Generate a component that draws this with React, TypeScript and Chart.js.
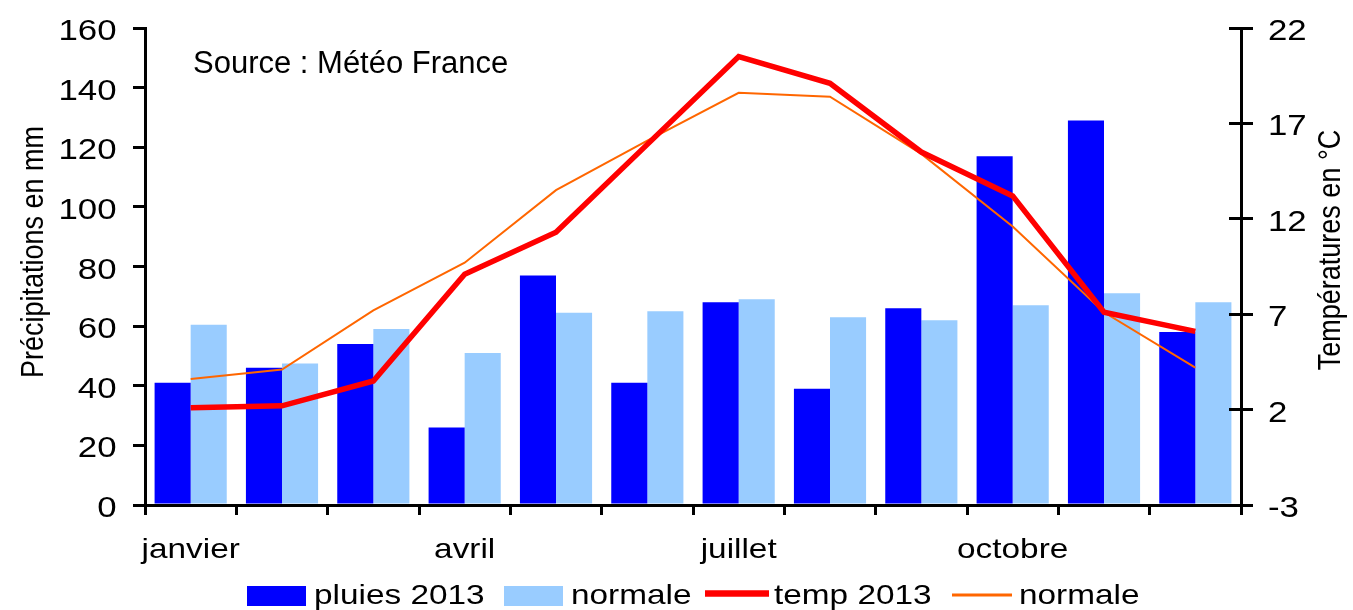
import React, { useEffect, useRef } from 'react';
import { Chart, registerables } from 'chart.js';

Chart.register(...registerables);

// ---- data ----
const months = ['janvier', 'février', 'mars', 'avril', 'mai', 'juin', 'juillet', 'août', 'septembre', 'octobre', 'novembre', 'décembre'];
const xTickLabels = ['janvier', '', '', 'avril', '', '', 'juillet', '', '', 'octobre', '', ''];
const pluies2013 = [41, 46, 54, 26, 77, 41, 68, 39, 66, 117, 129, 58];
const pluiesNormale = [60.5, 47.5, 59, 51, 64.5, 65, 69, 63, 62, 67, 71, 68];
const temp2013 = [2.1, 2.2, 3.5, 9.1, 11.3, 15.9, 20.5, 19.1, 15.5, 13.2, 7.1, 6.1];
const tempNormale = [3.6, 4.1, 7.2, 9.7, 13.5, 16.1, 18.6, 18.4, 15.4, 11.6, 7.1, 4.2];
const precipMin = 0;
const precipMax = 160;
const precipStep = 20;
const tempMin = -3;
const tempMax = 22;
const tempStep = 5;
const seriesLabels = ['pluies 2013', 'normale', 'temp 2013', 'normale'];
const leftTitle = 'Précipitations en mm';
const rightTitle = 'Températures en °C';
const sourceText = 'Source : Météo France';

const FONT = '"Liberation Sans", Arial, Helvetica, sans-serif';
const C_BLUE = '#0000FF';
const C_LIGHT = '#99CCFF';
const C_RED = '#FF0000';
const C_ORANGE = '#FF6600';

function drawText(
  ctx: CanvasRenderingContext2D,
  s: string,
  x: number,
  y: number,
  size: number,
  align: CanvasTextAlign,
  sx = 1,
  sy = 1,
  rot = 0
) {
  ctx.save();
  ctx.translate(x, y);
  if (rot) ctx.rotate(rot);
  ctx.scale(sx, sy);
  ctx.font = `${size}px ${FONT}`;
  ctx.textAlign = align;
  ctx.textBaseline = 'alphabetic';
  ctx.fillStyle = '#000';
  ctx.fillText(s, 0, 0);
  ctx.restore();
}

const align3 = (p: number) => Math.round(p - 1.5) + 1.5;

const decorPlugin = {
  id: 'decor',
  afterDraw(chart: any) {
    const ctx: CanvasRenderingContext2D = chart.ctx;
    const xs = chart.scales.x;
    const ys = chart.scales.y;
    const y1s = chart.scales.y1;
    const area = chart.chartArea;

    // inner tick marks of the right axis (crossing ticks)
    ctx.save();
    ctx.strokeStyle = '#000';
    ctx.lineWidth = 3;
    y1s.ticks.forEach((t: any) => {
      const py = align3(y1s.getPixelForValue(t.value));
      ctx.beginPath();
      ctx.moveTo(area.right - 12, py);
      ctx.lineTo(area.right, py);
      ctx.stroke();
    });
    ctx.restore();

    // left tick labels
    ys.ticks.forEach((t: any) => {
      const py = ys.getPixelForValue(t.value);
      drawText(ctx, String(t.value), area.left - 28.5, py + 12, 29, 'right', 1.2);
    });
    // right tick labels
    y1s.ticks.forEach((t: any) => {
      const py = y1s.getPixelForValue(t.value);
      drawText(ctx, String(t.value), area.right + 27, py + 12, 29, 'left', 1.2);
    });
    // x tick labels
    xTickLabels.forEach((lab, i) => {
      if (!lab) return;
      const px = xs.getPixelForValue(i);
      drawText(ctx, lab, px, area.bottom + 53, 28.5, 'center', 1.17);
    });

    // axis titles (both read bottom-to-top)
    drawText(ctx, leftTitle, 42.5, 252, 27, 'center', 1, 1.18, -Math.PI / 2);
    drawText(ctx, rightTitle, 1340, 250, 27, 'center', 1, 1.18, -Math.PI / 2);

    // source
    drawText(ctx, sourceText, 193, 73, 31, 'left');

    // legend
    const ly = 604;
    ctx.save();
    ctx.fillStyle = C_BLUE;
    ctx.fillRect(247, 586, 59, 20);
    ctx.fillStyle = C_LIGHT;
    ctx.fillRect(504, 586, 59, 20);
    ctx.strokeStyle = C_RED;
    ctx.lineWidth = 6.5;
    ctx.beginPath();
    ctx.moveTo(705, 593.5);
    ctx.lineTo(769, 593.5);
    ctx.stroke();
    ctx.strokeStyle = C_ORANGE;
    ctx.lineWidth = 3;
    ctx.beginPath();
    ctx.moveTo(952, 595);
    ctx.lineTo(1012, 595);
    ctx.stroke();
    ctx.restore();
    drawText(ctx, seriesLabels[0], 314, ly, 28.5, 'left', 1.17);
    drawText(ctx, seriesLabels[1], 571, ly, 28.5, 'left', 1.17);
    drawText(ctx, seriesLabels[2], 774, ly, 28.5, 'left', 1.17);
    drawText(ctx, seriesLabels[3], 1019, ly, 28.5, 'left', 1.17);
  },
};

export default function App() {
  const ref = useRef<HTMLCanvasElement | null>(null);

  useEffect(() => {
    if (!ref.current) return;
    const axisGrid = {
      display: true,
      drawOnChartArea: false,
      drawTicks: true,
      color: '#000',
      lineWidth: 3,
    };
    const chart = new Chart(ref.current, {
      type: 'bar',
      data: {
        labels: months,
        datasets: [
          {
            type: 'line',
            label: seriesLabels[2],
            data: temp2013,
            yAxisID: 'y1',
            borderColor: C_RED,
            backgroundColor: C_RED,
            borderWidth: 5.5,
            pointRadius: 0,
            fill: false,
            tension: 0,
            order: 0,
          },
          {
            type: 'line',
            label: seriesLabels[3],
            data: tempNormale,
            yAxisID: 'y1',
            borderColor: C_ORANGE,
            backgroundColor: C_ORANGE,
            borderWidth: 2,
            pointRadius: 0,
            fill: false,
            tension: 0,
            order: 1,
          },
          {
            type: 'bar',
            label: seriesLabels[0],
            data: pluies2013,
            yAxisID: 'y',
            backgroundColor: C_BLUE,
            borderWidth: 0,
            categoryPercentage: 0.79,
            barPercentage: 1.0,
            order: 2,
          },
          {
            type: 'bar',
            label: seriesLabels[1],
            data: pluiesNormale,
            yAxisID: 'y',
            backgroundColor: C_LIGHT,
            borderWidth: 0,
            categoryPercentage: 0.79,
            barPercentage: 1.0,
            order: 2,
          },
        ],
      } as any,
      options: {
        responsive: false,
        animation: false,
        devicePixelRatio: 1,
        layout: { padding: { top: 28, bottom: 55, left: 0, right: 0 } },
        plugins: {
          legend: { display: false },
          tooltip: { enabled: false },
          title: { display: false },
        },
        scales: {
          x: {
            type: 'category',
            offset: true,
            grid: { ...axisGrid, offset: true, tickLength: 10 },
            border: { display: true, color: '#000', width: 3 },
            ticks: { display: false },
            afterFit: (s: any) => {
              s.height = 50;
            },
          },
          y: {
            type: 'linear',
            position: 'left',
            min: precipMin,
            max: precipMax,
            ticks: { display: false, stepSize: precipStep },
            grid: { ...axisGrid, tickLength: 12 },
            border: { display: true, color: '#000', width: 3 },
            afterFit: (s: any) => {
              s.width = 145;
            },
          },
          y1: {
            type: 'linear',
            position: 'right',
            min: tempMin,
            max: tempMax,
            ticks: { display: false, stepSize: tempStep },
            grid: { ...axisGrid, tickLength: 12 },
            border: { display: true, color: '#000', width: 3 },
            afterFit: (s: any) => {
              s.width = 112;
            },
          },
        },
      } as any,
      plugins: [decorPlugin],
    });
    return () => chart.destroy();
  }, []);

  return (
    <div style={{ position: 'fixed', left: 0, top: 0, width: 1353, height: 610, background: '#fff' }}>
      <canvas ref={ref} width={1353} height={610} style={{ width: 1353, height: 610, display: 'block' }} />
    </div>
  );
}
